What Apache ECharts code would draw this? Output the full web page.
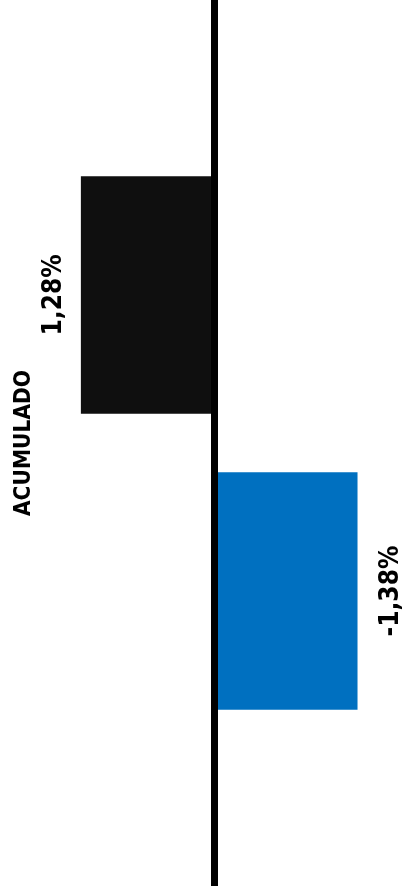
<!DOCTYPE html>
<html>
<head>
<meta charset="utf-8">
<script src="https://cdn.jsdelivr.net/npm/echarts@6/dist/echarts.min.js"></script>
<style>
html,body{margin:0;padding:0;background:#fff;}
#chart{width:404px;height:896px;}
</style>
</head>
<body>
<div id="chart"></div>
<script>
// Data
const categories = ['ACUMULADO'];
const seriesNames = ['Serie 1', 'Serie 2'];
const seriesValues1 = [1.28];
const seriesValues2 = [-1.38];
const seriesColors = ['#0f0f0f', '#0070c0'];
const axisMin = -1.8;
const axisMax = 2.0;

const FONT = '"DejaVu Sans Condensed", "DejaVu Sans", sans-serif';
const fmt = v => (v.toFixed(2)).replace('.', ',') + '%';

const chart = echarts.init(document.getElementById('chart'), null, {renderer: 'canvas'});
chart.setOption({
  animation: false,
  grid: {left: 6, right: 2.8, top: -1, bottom: 10, containLabel: false},
  xAxis: {
    type: 'value', inverse: true, min: axisMin, max: axisMax,
    axisLine: {show: false}, axisTick: {show: false}, axisLabel: {show: false}, splitLine: {show: false}
  },
  yAxis: {
    type: 'category', inverse: true, data: categories,
    axisLine: {show: false, onZero: false}, axisTick: {show: false},
    axisLabel: {
      inside: true, margin: 18, rotate: 90, align: 'center', verticalAlign: 'middle',
      fontFamily: FONT, fontWeight: 'bold', fontSize: 22.5, color: '#000'
    }
  },
  series: [
    {
      name: seriesNames[0], type: 'bar', data: seriesValues1,
      barWidth: 237.5, barGap: '24.7%',
      itemStyle: {color: seriesColors[0]},
      label: {
        show: true, position: 'left', distance: 14, rotate: 90,
        align: 'center', verticalAlign: 'bottom',
        fontFamily: FONT, fontWeight: 'bold', fontSize: 26, color: '#000',
        formatter: p => fmt(p.value)
      },
      markLine: {
        silent: true, symbol: 'none', label: {show: false},
        lineStyle: {color: '#000', width: 7, type: 'solid'},
        data: [{xAxis: 0}]
      }
    },
    {
      name: seriesNames[1], type: 'bar', data: seriesValues2,
      barWidth: 237.5, barGap: '24.7%',
      itemStyle: {color: seriesColors[1]},
      label: {
        show: true, position: 'right', distance: 21, rotate: 90,
        align: 'center', verticalAlign: 'top',
        fontFamily: FONT, fontWeight: 'bold', fontSize: 26, color: '#000',
        formatter: p => fmt(p.value)
      }
    }
  ]
});
</script>
</body>
</html>
